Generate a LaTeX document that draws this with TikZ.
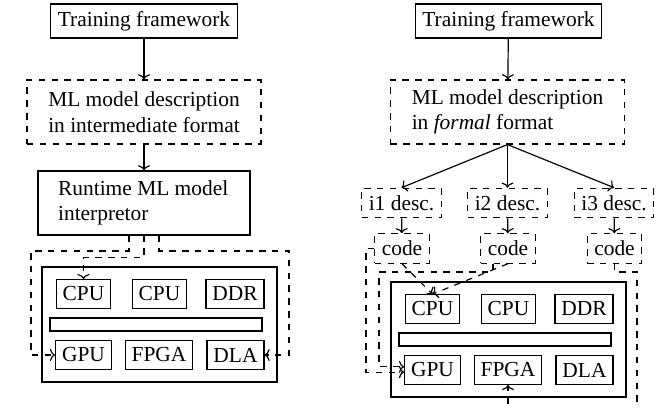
\documentclass[tikz,border=0pt]{standalone}
\usepackage{fontspec}
\setmainfont{Liberation Serif}
\usetikzlibrary{arrows.meta}
\tikzset{
  frame/.style={draw},
  dbox/.style={draw, dashed},
  chip/.style={draw, minimum height=13pt, inner xsep=3pt},
  flow/.style={-{To[length=2.4pt,width=5.6pt]}},
  link/.style={flow, dashed}
}
\begin{document}
\begin{tikzpicture}[x=0.467pt, y=-0.467pt, line width=0.55pt]
  \useasboundingbox (0,0) rectangle (670,408);
  % left: interpreted model
  \node[frame, minimum width=86.9pt, minimum height=14.9pt] (trainL) at (144,21) {Training framework};
  \node[dbox, minimum width=109.3pt, minimum height=29.9pt, align=left] (mlL) at (144,112)
    {ML model description\\in intermediate format};
  \node[frame, minimum width=99pt, minimum height=29.9pt, align=left] (rtL) at (144,203)
    {Runtime ML model\\interpretor\hspace*{38pt}};
  % right: generated code
  \node[frame, minimum width=86.9pt, minimum height=14.9pt] (trainR) at (508.5,21) {Training framework};
  \node[dbox, minimum width=109.3pt, minimum height=29.9pt, align=left] (mlR) at (507.5,112)
    {ML model description\\in \emph{formal} format};
  \node[dbox] (desc1) at (401.5,203) {i1 desc.};
  \node[dbox] (desc2) at (507.5,203) {i2 desc.};
  \node[dbox] (desc3) at (614,203) {i3 desc.};
  \node[dbox] (code1) at (402,248.5) {code};
  \node[dbox] (code2) at (508,248.5) {code};
  \node[dbox] (code3) at (614.5,248.5) {code};
  % the two boards
  \foreach \s/\hx/\hy in {L/159.5/324.5, R/508.5/339.5} {
    \node[frame, minimum width=109.7pt, minimum height=53.7pt] (hw\s) at (\hx,\hy) {};
    \node[chip] (cpu\s1) at (\hx-76,\hy-30.5) {CPU};
    \node[chip] (cpu\s2) at (\hx,\hy-30.5) {CPU};
    \node[chip] (ddr\s) at (\hx+75.5,\hy-30.5) {DDR};
    \node[frame, inner sep=0pt, minimum width=99pt, minimum height=6.1pt] (bus\s) at (\hx-3.5,\hy) {};
    \node[chip] (gpu\s) at (\hx-76,\hy+30.5) {GPU};
    \node[chip] (fpga\s) at (\hx-0.5,\hy+30.5) {FPGA};
    \node[chip] (dla\s) at (\hx+76,\hy+30.5) {DLA};
  }
  \draw[flow] (trainL) -- (mlL);
  \draw[flow] (mlL) -- (rtL);
  \draw[link] ([xshift=-7pt]rtL.south) |- (31,251) |- (gpuL.west);
  \draw[link] (rtL.south) -- ++(0,22) -| (cpuL1.north);
  \draw[link] ([xshift=7pt]rtL.south) |- (289,251) |- (dlaL.east);
  \draw[flow] (trainR) -- (mlR);
  \draw[flow] (mlR.south) -- (desc1.north);
  \draw[flow] (mlR.south) -- (desc2.north);
  \draw[flow] (mlR.south) -- (desc3.north);
  \draw[flow] (desc1) -- (code1);
  \draw[flow] (desc2) -- (code2);
  \draw[flow] (desc3) -- (code3);
  \draw[link] (code1.south) -- (cpuR1.north);
  \draw[link] (code2.south) -- (cpuR1.north);
  \draw[link] (code1.west) -- ++(-8,0) |- ([yshift=-1pt]gpuR.west);
  \draw[link] ([xshift=-7pt]code2.south) |- (379,272) |- ([yshift=1.5pt]gpuR.west);
  \draw[link] (code3.south) |- (637,272) |- (508,425) -- (fpgaR.south);
\end{tikzpicture}
\end{document}
